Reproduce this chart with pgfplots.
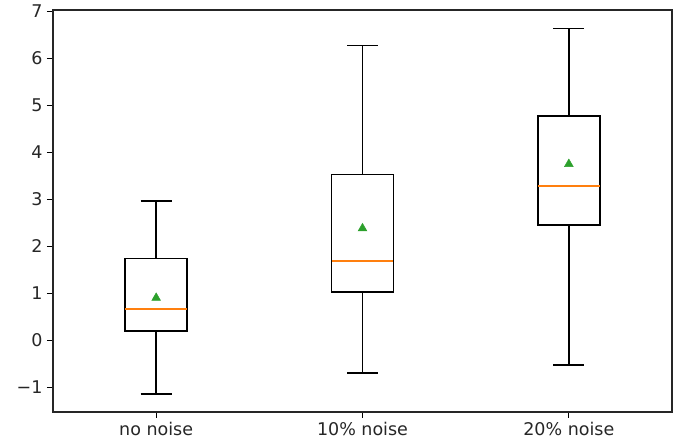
\documentclass[border=0pt]{standalone}
\usepackage{fontspec}
\setmainfont{DejaVu Sans}
\usepackage{pgfplots}
\pgfplotsset{compat=1.18}
\usepgfplotslibrary{statistics}
\definecolor{mplorange}{HTML}{FF7F0E}
\definecolor{mplgreen}{HTML}{2CA02C}
\begin{document}
\begin{tikzpicture}
\begin{axis}[
  scale only axis,
  width=619pt, height=402pt,
  xmin=0.5, xmax=3.5,
  ymin=-1.53, ymax=7.03,
  xtick={1,2,3},
  xticklabels={no noise, 10\% noise, 20\% noise},
  ytick={-1,0,1,2,3,4,5,6,7},
  yticklabels={−1,0,1,2,3,4,5,6,7},
  tick align=outside,
  tick pos=left,
  major tick length=6pt,
  tick style={black, line width=1pt},
  axis line style={line width=1.2pt, draw=black!85},
  ticklabel style={font=\fontsize{17.5}{20}\selectfont, text=black!85},
  yticklabel style={xshift=-1pt},
  xticklabel style={yshift=-1pt},
  boxplot/draw direction=y,
  boxplot/box extend=0.3,
  boxplot/whisker extend=0.15,
  boxplot/every median/.style={draw=mplorange, line width=1.6pt},
]
\coordinate (sw) at (rel axis cs:0,0);
\coordinate (ne) at (rel axis cs:1,1);
\addplot[boxplot prepared={draw position=1, lower whisker=-1.15, lower quartile=0.19, median=0.66, upper quartile=1.74, upper whisker=2.96}, draw=black, line width=1.6pt, solid] coordinates {};
\addplot[boxplot prepared={draw position=2, lower whisker=-0.70, lower quartile=1.02, median=1.68, upper quartile=3.53, upper whisker=6.27}, draw=black, line width=1.6pt, solid] coordinates {};
\addplot[boxplot prepared={draw position=3, lower whisker=-0.53, lower quartile=2.45, median=3.28, upper quartile=4.77, upper whisker=6.64}, draw=black, line width=1.6pt, solid] coordinates {};
\addplot[only marks, mark=triangle*, mark size=5pt, mark options={fill=mplgreen, draw=mplgreen, line width=0.5pt}] coordinates {(1,0.90) (2,2.38) (3,3.75)};
\end{axis}
\useasboundingbox ([shift={(-53pt,-33pt)}]sw) rectangle ([shift={(14pt,10pt)}]ne);
\end{tikzpicture}
\end{document}
